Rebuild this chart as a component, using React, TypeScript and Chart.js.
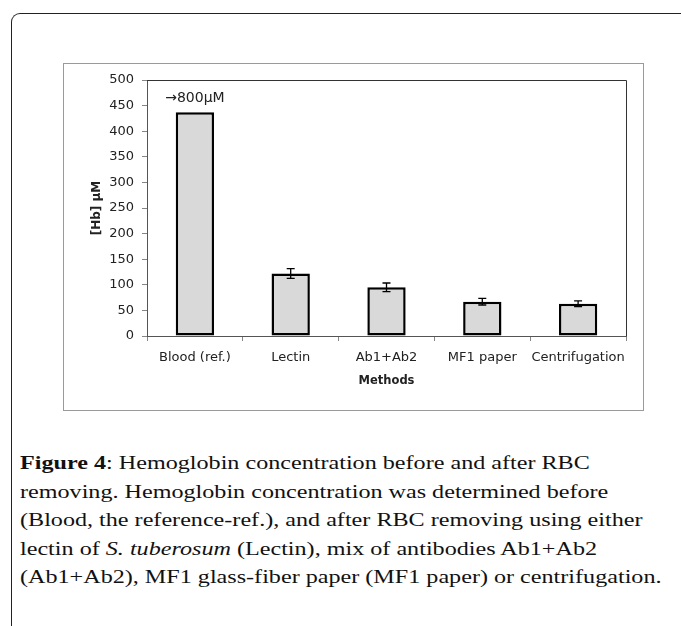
import React, { useEffect, useRef } from "react";
import { Chart, registerables } from "chart.js";

Chart.register(...registerables);

const categories = ["Blood (ref.)", "Lectin", "Ab1+Ab2", "MF1 paper", "Centrifugation"];
// Blood bar is drawn truncated at the visible height; its real value is annotated as →800µM
const hbValues = [437, 122, 95, 67, 63];
const hbErrors = [0, 9.5, 8.5, 6.5, 5.5];
const blockedLabel = "\u2192800\u00B5M";
const yTicksMax = 500;
const yTicksStep = 50;

const FONT = "'DejaVu Sans', sans-serif";

const extrasPlugin = {
  id: "extras",
  afterDatasetsDraw(chart: any) {
    const ctx = chart.ctx;
    const meta = chart.getDatasetMeta(0);
    const y = chart.scales.y;
    ctx.save();
    ctx.strokeStyle = "#000";
    ctx.lineWidth = 1.3;
    meta.data.forEach((bar: any, i: number) => {
      const e = hbErrors[i];
      if (!e) return;
      const v = hbValues[i];
      const yt = y.getPixelForValue(v + e);
      const yb = y.getPixelForValue(v - e);
      const x = bar.x;
      ctx.beginPath();
      ctx.moveTo(x, yt);
      ctx.lineTo(x, yb);
      ctx.moveTo(x - 4, yt);
      ctx.lineTo(x + 4, yt);
      ctx.moveTo(x - 4, yb);
      ctx.lineTo(x + 4, yb);
      ctx.stroke();
    });
    // annotation above first bar
    const b0 = meta.data[0];
    ctx.fillStyle = "#222";
    ctx.font = "14px " + FONT;
    ctx.textAlign = "center";
    ctx.textBaseline = "middle";
    ctx.fillText(blockedLabel, b0.x, b0.y - 14);
    // plot area border (top and right)
    const a = chart.chartArea;
    ctx.strokeStyle = "#333";
    ctx.lineWidth = 1;
    ctx.beginPath();
    ctx.moveTo(a.left, a.top + 0.5);
    ctx.lineTo(a.right + 0.5, a.top + 0.5);
    ctx.lineTo(a.right + 0.5, a.bottom);
    ctx.stroke();
    ctx.restore();
  },
};

function HbChart() {
  const ref = useRef<HTMLCanvasElement | null>(null);
  useEffect(() => {
    if (!ref.current) return;
    const chart = new Chart(ref.current, {
      type: "bar",
      data: {
        labels: categories,
        datasets: [
          {
            data: hbValues,
            backgroundColor: "#d9d9d9",
            borderColor: "#000",
            borderWidth: 2.5,
            borderSkipped: false,
            categoryPercentage: 1,
            barPercentage: 0.4,
          },
        ],
      },
      options: {
        animation: false,
        responsive: false,
        devicePixelRatio: 1,
        layout: { padding: { left: 0, right: 17, top: 16, bottom: 0 } },
        plugins: { legend: { display: false }, tooltip: { enabled: false } },
        scales: {
          x: {
            grid: { drawOnChartArea: false, tickLength: 5, color: "#868686", offset: true },
            border: { color: "#555", width: 1 },
            ticks: {
              font: { family: FONT, size: 13 },
              color: "#222",
              padding: 9,
              maxRotation: 0,
              minRotation: 0,
              autoSkip: false,
            },
            title: {
              display: true,
              text: "Methods",
              font: { family: FONT, size: 11.5, weight: "bold" },
              color: "#222",
              padding: { top: 0, bottom: 22 },
            },
            afterFit: (s: any) => {
              s.height = 74;
            },
          },
          y: {
            min: 0,
            max: yTicksMax,
            grid: { drawOnChartArea: false, tickLength: 5, color: "#868686" },
            border: { color: "#555", width: 1 },
            ticks: { stepSize: yTicksStep, font: { family: FONT, size: 13 }, color: "#222", padding: 8 },
            title: {
              display: true,
              text: "[Hb] \u00B5M",
              font: { family: FONT, size: 12, weight: "bold" },
              color: "#222",
              padding: { top: 26, bottom: 0 },
            },
            afterFit: (s: any) => {
              s.width = 83;
            },
          },
        },
      },
      plugins: [extrasPlugin],
    });
    return () => chart.destroy();
  }, []);
  return <canvas ref={ref} width={579} height={346} style={{ position: "absolute", left: 0, top: 0 }} />;
}

export default function App() {
  return (
    <div style={{ position: "absolute", left: 0, top: 0, width: 681, height: 626, overflow: "hidden", background: "#fff" }}>
      <div
        style={{
          position: "absolute",
          left: 11,
          top: 13,
          width: 720,
          height: 700,
          borderLeft: "1.5px solid #222",
          borderTop: "1.5px solid #222",
          borderTopLeftRadius: 9,
        }}
      />
      <div
        style={{
          position: "absolute",
          left: 63,
          top: 63,
          width: 581,
          height: 348,
          border: "1px solid #9a9a9a",
          boxSizing: "border-box",
        }}
      >
        <HbChart />
      </div>
      <div
        style={{
          position: "absolute",
          left: 20,
          top: 449,
          fontFamily: "'Liberation Serif', 'DejaVu Serif', serif",
          fontSize: 19,
          lineHeight: "28.5px",
          color: "#111",
          whiteSpace: "nowrap",
          transform: "scaleX(1.27)",
          transformOrigin: "left top",
        }}
      >
        <b>Figure 4</b>: Hemoglobin concentration before and after RBC
        <br />
        removing. Hemoglobin concentration was determined before
        <br />
        (Blood, the reference-ref.), and after RBC removing using either
        <br />
        lectin of <i>S. tuberosum</i> (Lectin), mix of antibodies Ab1+Ab2
        <br />
        (Ab1+Ab2), MF1 glass-fiber paper (MF1 paper) or centrifugation.
      </div>
    </div>
  );
}
